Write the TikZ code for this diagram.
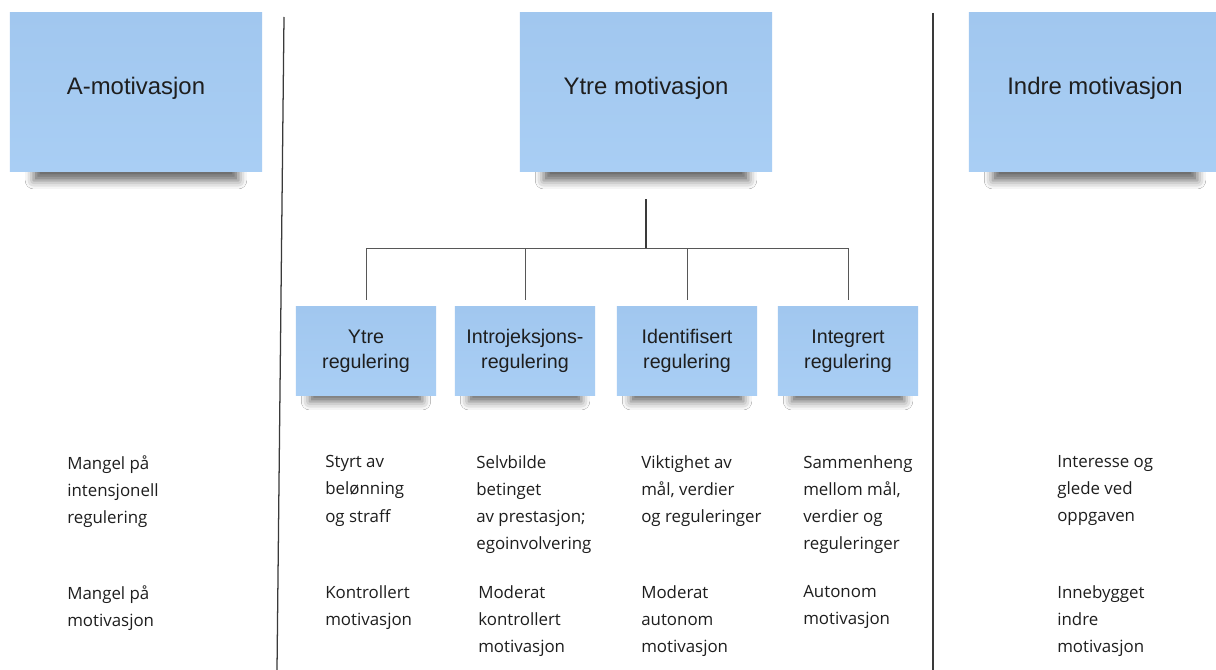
\documentclass[tikz,border=0pt]{standalone}
\usepackage{fontspec}
\setmainfont{Open Sans}
\newfontfamily\notefont{Liberation Sans}
\usetikzlibrary{positioning, calc, backgrounds, shadows.blur}
\definecolor{note}   {HTML}{A9CEF4}
\definecolor{notetop}{HTML}{A1C7EF}
\definecolor{ink}    {HTML}{1E1E1E}
\definecolor{rule}   {HTML}{3A3A3A}

\begin{document}
\begin{tikzpicture}[x=0.025cm, y=-0.025cm,
    bignote/.style={top color=notetop, bottom color=note, inner sep=0pt,
      minimum width=6.3cm, minimum height=3.95cm, text=ink,
      text height=0.75em, text depth=0.45em,
      font=\notefont\fontsize{17pt}{20pt}\selectfont},
    smallnote/.style={top color=notetop, bottom color=note, inner sep=0pt,
      minimum width=3.5cm, minimum height=2.2cm, text=ink, align=center,
      font=\notefont\fontsize{14pt}{17.8pt}\selectfont},
    desc/.style={anchor=north west, align=left, inner sep=0pt, text=ink,
      font=\fontsize{12pt}{19.4pt}\selectfont},
    noteshadow/.style={blur shadow={shadow xshift=0pt, shadow yshift=-3pt,
      shadow blur radius=6pt, shadow opacity=60}},
    stem/.style={rule, line width=1.4pt},
    branch/.style={rule!85, line width=0.7pt},
    divider/.style={rule, line width=0.9pt}]
  \useasboundingbox (0,0) rectangle (1216,670);

  % top notes
  \node[bignote] (amot)  at (136,92)  {A-motivasjon};
  \node[bignote] (ytre)  at (646,92)  {Ytre motivasjon};
  \node[bignote] (indre) at (1095,92) {Indre motivasjon};

  % regulation notes
  \node[smallnote] (yreg)     at (366,351) {Ytre\\regulering};
  \node[smallnote] (introreg) at (525,351) {Introjeksjons-\\regulering};
  \node[smallnote] (identreg) at (687,351) {Identifisert\\regulering};
  \node[smallnote] (integreg) at (848,351) {Integrert\\regulering};

  \begin{scope}[on background layer]
    \fill[white] (0,0) rectangle (1216,670);
    \foreach \n/\d/\s in {amot/24/5, ytre/24/5, indre/24/5,
        yreg/14/2, introreg/14/2, identreg/14/2, integreg/14/2}
      \path[noteshadow] ($(\n.south west)+(\d,-40)$)
        rectangle ($(\n.south east)+(-\d,\s)$);
  \end{scope}

  % tree
  \coordinate (stemtop) at ($(ytre.south)+(0,28)$);
  \coordinate (fork) at (646,248);
  \draw[stem] (stemtop) -- (fork);
  \foreach \n in {yreg, introreg, identreg, integreg}
    \draw[branch] (fork) -| ($(\n.north)+(0,-7)$);

  % dividers
  \draw[divider] (284,17) -- (277,670);
  \draw[divider] (933,13) -- (933,670);

  % descriptions
  \node[desc] (amangel)  at (67,455)   {Mangel på\\intensjonell\\regulering};
  \node[desc] (astyrt)   at (325,455)  {Styrt av\\belønning\\og straff};
  \node[desc] (aselv)    at (476,455)  {Selvbilde\\betinget\\av prestasjon;\\egoinvolvering};
  \node[desc] (aviktig)  at (641,455)  {Viktighet av\\mål, verdier\\og reguleringer};
  \node[desc] (asammen)  at (803,455)  {Sammenheng\\mellom mål,\\verdier og\\reguleringer};
  \node[desc] (aint)     at (1057,455) {Interesse og\\glede ved\\oppgaven};

  \node[desc] (bmangel)  at (67,585)   {Mangel på\\motivasjon};
  \node[desc] (bkontr)   at (325,585)  {Kontrollert\\motivasjon};
  \node[desc] (bmodk)    at (478,585)  {Moderat\\kontrollert\\motivasjon};
  \node[desc] (bmoda)    at (641,585)  {Moderat\\autonom\\motivasjon};
  \node[desc] (bauto)    at (803,585)  {Autonom\\motivasjon};
  \node[desc] (binne)    at (1057,585) {Innebygget\\indre\\motivasjon};
\end{tikzpicture}
\end{document}
